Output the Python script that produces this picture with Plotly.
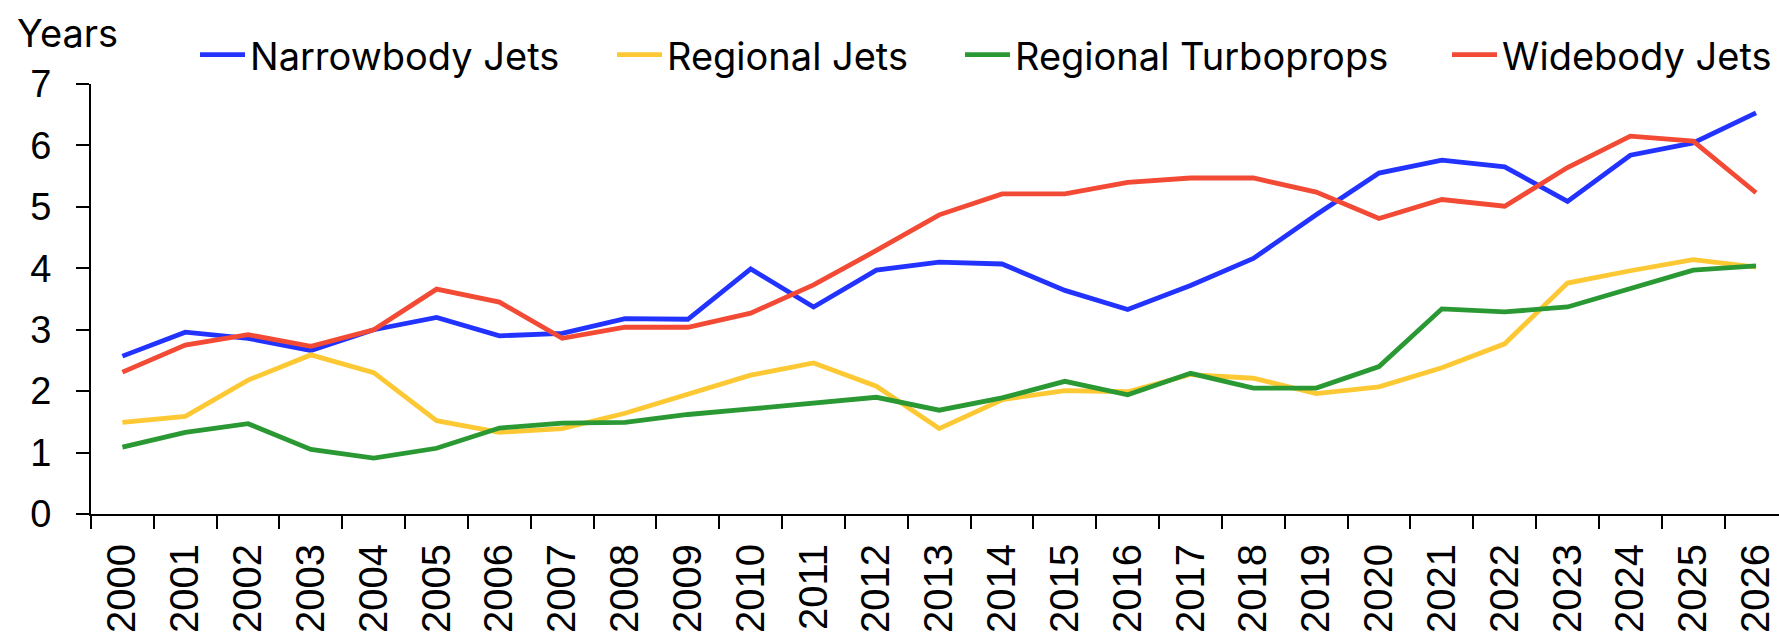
import plotly.graph_objects as go

# Average age (years) by aircraft type, 2000-2026
years = [str(y) for y in range(2000, 2027)]

narrowbody_jets = [2.57, 2.96, 2.86, 2.66, 3.00, 3.20, 2.90, 2.94, 3.18, 3.17,
                   3.99, 3.37, 3.97, 4.10, 4.07, 3.64, 3.33, 3.72, 4.16, 4.87,
                   5.55, 5.76, 5.65, 5.09, 5.84, 6.04, 6.53]
regional_jets = [1.49, 1.59, 2.18, 2.59, 2.30, 1.52, 1.33, 1.39, 1.64, 1.94,
                 2.26, 2.46, 2.08, 1.39, 1.86, 2.01, 1.99, 2.27, 2.21, 1.96,
                 2.07, 2.38, 2.77, 3.76, 3.96, 4.14, 4.02]
regional_turboprops = [1.09, 1.33, 1.47, 1.05, 0.91, 1.07, 1.40, 1.48, 1.49, 1.62,
                       1.71, 1.81, 1.90, 1.69, 1.89, 2.16, 1.94, 2.29, 2.05, 2.05,
                       2.40, 3.34, 3.29, 3.37, 3.68, 3.97, 4.04]
widebody_jets = [2.31, 2.75, 2.92, 2.73, 3.00, 3.66, 3.45, 2.86, 3.04, 3.04,
                 3.27, 3.73, 4.29, 4.87, 5.21, 5.21, 5.40, 5.47, 5.47, 5.24,
                 4.81, 5.12, 5.01, 5.64, 6.15, 6.07, 5.23]

series_names = ["Narrowbody Jets", "Regional Jets", "Regional Turboprops", "Widebody Jets"]
series_values = [narrowbody_jets, regional_jets, regional_turboprops, widebody_jets]
series_colors = ["#2233ff", "#fcc934", "#2a9934", "#f24a35"]

W, H = 1779, 635
ML, MR, MT, MB = 91, 0, 84, 121
plot_w = W - ML - MR
plot_h = H - MT - MB

TICK_FONT = "Liberation Sans, Arial, sans-serif"
TEXT_FONT = "Inter, Liberation Sans, Arial, sans-serif"

def px_to_paper_x(px):
    return (px - ML) / plot_w

def px_to_paper_y(py):
    return (H - MB - py) / plot_h

fig = go.Figure()
legend_ids = ["legend", "legend2", "legend3", "legend4"]
for name, vals, color, lg in zip(series_names, series_values, series_colors, legend_ids):
    fig.add_trace(go.Scatter(
        x=years, y=vals, name=name, mode="lines",
        line=dict(color=color, width=4.8),
        legend=lg,
    ))

# One legend per series so each entry sits at its own position in the top row
ITEM_W = 45
text_start_px = [250, 667, 1015, 1502]
legend_y = px_to_paper_y(55)
legend_layout = {}
for lg, tx in zip(legend_ids, text_start_px):
    legend_layout[lg] = dict(
        x=px_to_paper_x(tx - ITEM_W - 10), y=legend_y, xanchor="left", yanchor="middle",
        orientation="h", bgcolor="rgba(0,0,0,0)", borderwidth=0, itemwidth=ITEM_W,
        font=dict(family=TEXT_FONT, size=38, color="#000000"),
        itemclick=False, itemdoubleclick=False,
    )

cat_px = 62.83
x_right = -0.5 + plot_w / cat_px

fig.update_layout(
    width=W, height=H,
    margin=dict(l=ML, r=MR, t=MT, b=MB, pad=0),
    paper_bgcolor="white", plot_bgcolor="white",
    font=dict(family=TICK_FONT, color="#000000"),
    showlegend=True,
    **legend_layout,
    xaxis=dict(
        type="category", range=[-0.5, x_right],
        tickson="boundaries", ticks="outside", ticklen=13, tickwidth=2,
        tickcolor="#000000", showline=True, linecolor="#000000", linewidth=2,
        showgrid=False, zeroline=False, tickangle=-90,
        tickfont=dict(family=TICK_FONT, size=40, color="#000000"),
        ticklabelstandoff=12,
    ),
    yaxis=dict(
        range=[0, 7], dtick=1, tick0=0, ticks="outside", ticklen=13, tickwidth=2,
        tickcolor="#000000", showline=True, linecolor="#000000", linewidth=2,
        showgrid=False, zeroline=False,
        tickfont=dict(family=TICK_FONT, size=38, color="#000000"),
        ticklabelstandoff=17,
    ),
    annotations=[dict(
        text="Years", xref="paper", yref="paper",
        x=px_to_paper_x(15), y=px_to_paper_y(33),
        xanchor="left", yanchor="middle", showarrow=False,
        font=dict(family=TEXT_FONT, size=38, color="#000000"),
    )],
)

fig.write_html("out.html")
